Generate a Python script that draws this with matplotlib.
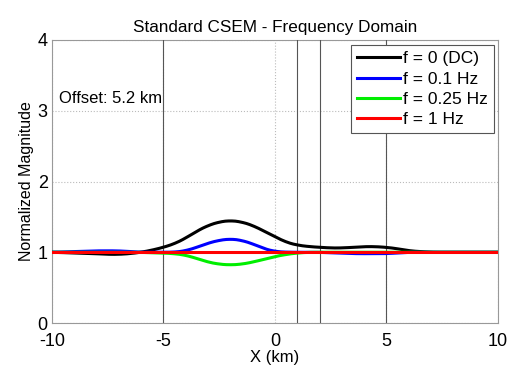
import matplotlib
matplotlib.use('Agg')
import matplotlib.pyplot as plt
import numpy as np

plt.rcParams['font.family'] = ['Liberation Sans', 'DejaVu Sans']
plt.rcParams['axes.unicode_minus'] = False

x_km = [-10, -9, -8, -7.5, -7, -6.5, -6, -5.5, -5, -4.5, -4, -3.5, -3, -2.5, -2,
        -1.5, -1, -0.5, 0, 0.5, 1, 1.5, 2, 2.5, 3, 3.5, 4, 4.5, 5, 5.5, 6, 7, 8, 9, 10]
f_dc = [1.0, 0.99, 0.98, 0.97, 0.97, 0.98, 1.0, 1.03, 1.07, 1.12, 1.2, 1.3, 1.38, 1.43, 1.45,
        1.43, 1.38, 1.3, 1.22, 1.14, 1.1, 1.08, 1.07, 1.06, 1.06, 1.07, 1.08, 1.08, 1.07, 1.05, 1.02,
        1.0, 1.0, 1.0, 1.0]
f_01 = [1.0, 1.01, 1.02, 1.02, 1.02, 1.01, 1.0, 1.0, 1.0, 1.0, 1.02, 1.07, 1.13, 1.17, 1.19,
        1.17, 1.12, 1.05, 1.01, 1.0, 1.0, 1.0, 1.0, 0.99, 0.99, 0.98, 0.98, 0.98, 0.98, 0.99, 1.0,
        1.0, 1.0, 1.0, 1.0]
f_025 = [1.0, 1.0, 1.0, 1.0, 1.0, 1.0, 1.0, 0.99, 0.99, 0.98, 0.96, 0.91, 0.86, 0.83, 0.82,
         0.83, 0.86, 0.9, 0.94, 0.97, 0.99, 1.0, 1.0, 1.0, 1.0, 1.0, 1.0, 1.0, 1.0, 1.0, 1.0,
         1.0, 1.0, 1.0, 1.0]
f_1 = [1.0] * len(x_km)

series = [
    (f_dc, 'black', 'f = 0 (DC)'),
    (f_01, 'blue', 'f = 0.1 Hz'),
    (f_025, '#00ee00', 'f = 0.25 Hz'),
    (f_1, 'red', 'f = 1 Hz'),
]
marker_x = [-5, 1, 2, 5]


def smooth(y, n=15):
    # light moving average so the piecewise samples look like a smooth curve
    pad = np.pad(y, n // 2, mode='edge')
    return np.convolve(pad, np.ones(n) / n, mode='valid')


fig = plt.figure(figsize=(5.1, 3.67), dpi=100)
ax = fig.add_axes([52 / 510, 1 - 323 / 367, 446 / 510, 283 / 367])

xs = np.linspace(-10, 10, 400)
for y, c, lab in series:
    ax.plot(xs, smooth(np.interp(xs, x_km, y)), color=c, linewidth=2.2, label=lab, zorder=3)

for xv in marker_x:
    ax.axvline(xv, color='#555555', linewidth=0.8, zorder=2.6)

ax.set_xlim(-10, 10)
ax.set_ylim(0, 4)
ax.set_xticks([-10, -5, 0, 5, 10])
ax.set_yticks([0, 1, 2, 3, 4])
ax.tick_params(axis='both', labelsize=13, length=0)
ax.tick_params(axis='x', pad=7)
ax.tick_params(axis='y', pad=3)
ax.grid(True, color='#bbbbbb', linestyle=':', linewidth=0.8, zorder=1)
ax.set_axisbelow(True)
for s in ax.spines.values():
    s.set_color('#999999')

ax.set_title('Standard CSEM - Frequency Domain', fontsize=12.3, pad=6)
ax.set_xlabel('X (km)', fontsize=12, labelpad=0)
ax.set_ylabel('Normalized Magnitude', fontsize=11.5, labelpad=3)
ax.text(-9.7, 3.07, 'Offset: 5.2 km', fontsize=12, va='bottom')

leg = ax.legend(loc='upper right', fontsize=12.5, handlelength=2.5, handletextpad=0.15,
                labelspacing=0.3, borderpad=0.35, borderaxespad=0, fancybox=False,
                framealpha=1, bbox_to_anchor=(0.99, 0.982))
leg.get_frame().set_edgecolor('#555555')
leg.get_frame().set_linewidth(0.8)

fig.savefig('out.png', dpi=100)
